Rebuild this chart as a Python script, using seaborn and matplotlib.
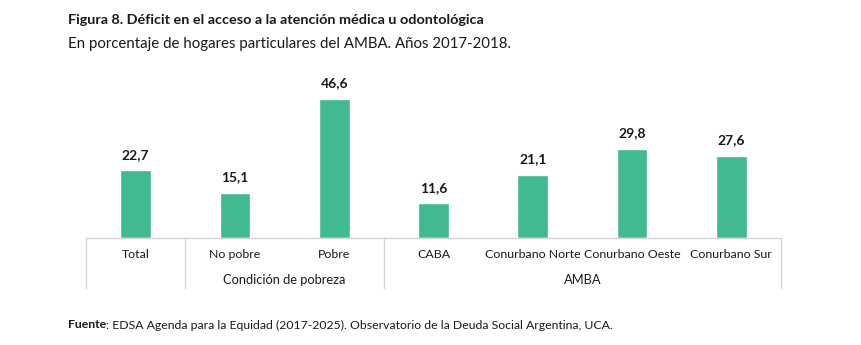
import matplotlib
matplotlib.use("Agg")
import matplotlib.pyplot as plt
import seaborn as sns
import pandas as pd

categories = ["Total", "No pobre", "Pobre", "CABA", "Conurbano Norte", "Conurbano Oeste", "Conurbano Sur"]
values = [22.7, 15.1, 46.6, 11.6, 21.1, 29.8, 27.6]
value_labels = ["22,7", "15,1", "46,6", "11,6", "21,1", "29,8", "27,6"]
groups = ["Condición de pobreza", "AMBA"]

title = "Figura 8. Déficit en el acceso a la atención médica u odontológica"
subtitle = "En porcentaje de hogares particulares del AMBA. Años 2017-2018."
source_bold = "Fuente"
source_rest = ": EDSA Agenda para la Equidad (2017-2025). Observatorio de la Deuda Social Argentina, UCA."

sns.set_theme(style="white")
plt.rcParams["font.family"] = ["Lato", "DejaVu Sans"]

BAR = "#41BA94"
TXT = "#1a1a1a"
GRID = "#d6d6d6"

df = pd.DataFrame({"cat": categories, "val": values})

W, H = 862, 345
fig = plt.figure(figsize=(W / 100, H / 100), dpi=100)
ax = fig.add_axes([86 / W, 1 - 238 / H, (781 - 86) / W, 158 / H])

sns.barplot(data=df, x="cat", y="val", color=BAR, width=0.31, saturation=1, ax=ax)
ax.set_ylim(0, 158 / 2.98)
ax.set_xlim(-0.5, len(categories) - 0.5)
ax.set_xlabel("")
ax.set_ylabel("")
ax.set_yticks([])
for s in ["top", "left", "right"]:
    ax.spines[s].set_visible(False)
ax.spines["bottom"].set_color(GRID)
ax.spines["bottom"].set_linewidth(1.0)
ax.tick_params(axis="x", length=0, pad=8, labelsize=8.9, labelcolor=TXT)

for i, (v, lab) in enumerate(zip(values, value_labels)):
    ax.annotate(lab, (i, v), xytext=(0, 7), textcoords="offset points",
                ha="center", va="bottom", fontsize=10, fontweight="bold", color=TXT)

trans = ax.get_xaxis_transform()
for xs in [-0.5, 0.5, 2.5, 6.5]:
    ax.plot([xs, xs], [0, -0.316], transform=trans, color=GRID, lw=1.0, clip_on=False)

ax.text(1.5, -0.266, groups[0], transform=trans, ha="center", va="center", fontsize=9.3, color=TXT)
ax.text(4.5, -0.266, groups[1], transform=trans, ha="center", va="center", fontsize=9.3, color=TXT)

fig.text(68 / W, 1 - 20 / H, title, ha="left", va="center", fontsize=10.4, fontweight="bold", color=TXT)
fig.text(68 / W, 1 - 44 / H, subtitle, ha="left", va="center", fontsize=10.8, color=TXT)
t1 = fig.text(68 / W, 1 - 325 / H, source_bold, ha="left", va="center", fontsize=8.8, fontweight="bold", color=TXT)
fig.canvas.draw()
bb = t1.get_window_extent()
fig.text(bb.x1 / W, 1 - 325 / H, source_rest, ha="left", va="center", fontsize=8.8, color=TXT)

fig.savefig("out.png", dpi=100)
